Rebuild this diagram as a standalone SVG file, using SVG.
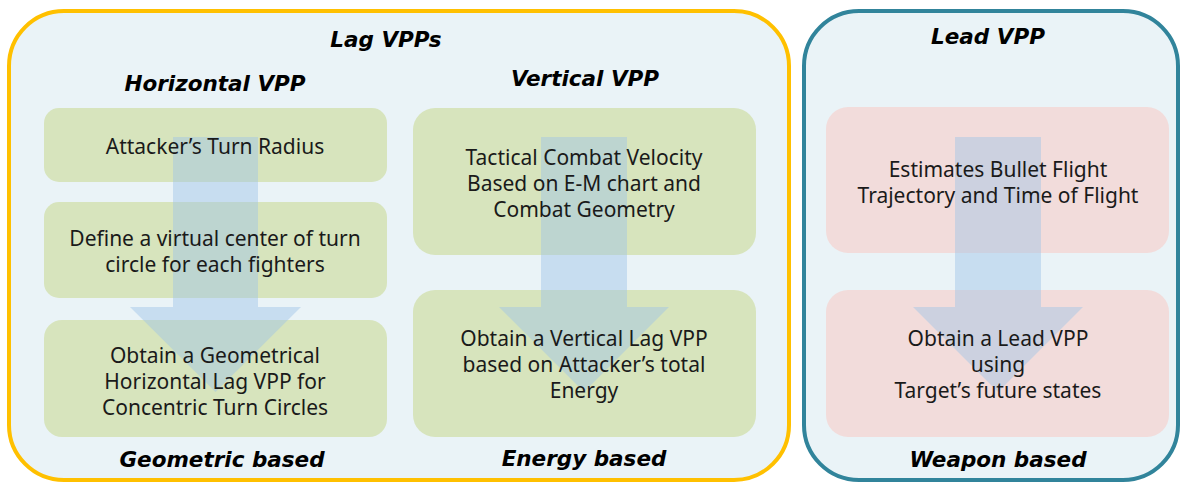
<svg xmlns="http://www.w3.org/2000/svg" width="1181" height="483" viewBox="0 0 1181 483">
<style>
.bg{fill:#fff}
.panel{fill:#EAF3F7;stroke-width:4}
.lag{stroke:#FFC000}
.lead{stroke:#31849B}
.g{fill:#D7E4BD}
.p{fill:#F2DCDB}
.arrow{fill:#9DC3E6;fill-opacity:0.45}
.t{font-family:"Noto Sans","Open Sans",sans-serif;font-size:21px;fill:#1a1a1a;text-anchor:middle}
.h{font-family:"DejaVu Sans",Verdana,sans-serif;font-weight:bold;font-style:italic;font-size:21.5px;fill:#000;text-anchor:middle}
</style>
<rect class="bg" x="0" y="0" width="1181" height="483"/>
<g id="lag-panel">
<rect class="panel lag" x="9" y="11" width="780" height="469" rx="55"/>
<text class="h" x="386" y="47">Lag VPPs</text>
<text class="h" x="215" y="91">Horizontal VPP</text>
<text class="h" x="585" y="86">Vertical VPP</text>
<text class="h" x="222" y="467">Geometric based</text>
<text class="h" x="584" y="466">Energy based</text>
</g>
<g id="lead-panel">
<rect class="panel lead" x="804" y="11" width="374" height="469" rx="55"/>
<text class="h" x="988" y="44">Lead VPP</text>
<text class="h" x="998" y="467">Weapon based</text>
</g>
<g id="turn-radius"><rect class="g" x="44" y="108" width="343" height="74" rx="15"/></g>
<g id="virtual-center"><rect class="g" x="44" y="202" width="343" height="96" rx="15"/></g>
<g id="horizontal-lag"><rect class="g" x="44" y="320" width="343" height="117" rx="18"/></g>
<g id="tactical-velocity"><rect class="g" x="413" y="108" width="343" height="147" rx="22"/></g>
<g id="vertical-lag"><rect class="g" x="413" y="290" width="343" height="147" rx="22"/></g>
<g id="bullet-flight"><rect class="p" x="826" y="107" width="343" height="146" rx="22"/></g>
<g id="lead-vpp"><rect class="p" x="826" y="290" width="343" height="147" rx="22"/></g>
<g id="connectors">
<polygon class="arrow" points="173,137 258,137 258,307 301,307 215.5,392 130,307 173,307"/>
<polygon class="arrow" points="541,137 627,137 627,307 669,307 584,392 499,307 541,307"/>
<polygon class="arrow" points="955,137 1041,137 1041,307 1083,307 998,392 913,307 955,307"/>
</g>
<g id="labels">
<text class="t" x="215" y="154">Attacker’s Turn Radius</text>
<text class="t" x="215" y="246">Define a virtual center of turn</text>
<text class="t" x="215" y="272">circle for each fighters</text>
<text class="t" x="215" y="363">Obtain a Geometrical</text>
<text class="t" x="215" y="389">Horizontal Lag VPP for</text>
<text class="t" x="215" y="415">Concentric Turn Circles</text>
<text class="t" x="584" y="165">Tactical Combat Velocity</text>
<text class="t" x="584" y="191">Based on E-M chart and</text>
<text class="t" x="584" y="217">Combat Geometry</text>
<text class="t" x="584" y="346">Obtain a Vertical Lag VPP</text>
<text class="t" x="584" y="372">based on Attacker’s total</text>
<text class="t" x="584" y="398">Energy</text>
<text class="t" x="998" y="177">Estimates Bullet Flight</text>
<text class="t" x="998" y="203">Trajectory and Time of Flight</text>
<text class="t" x="998" y="346">Obtain a Lead VPP</text>
<text class="t" x="998" y="372">using</text>
<text class="t" x="998" y="398">Target’s future states</text>
</g>
</svg>
